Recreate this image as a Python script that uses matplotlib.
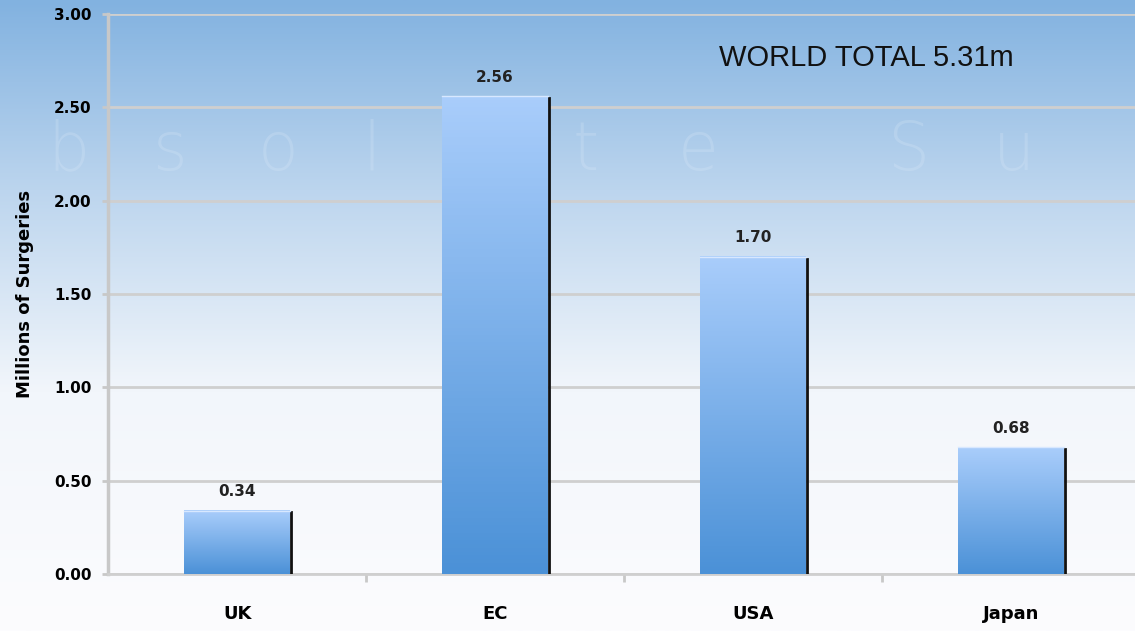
import numpy as np
import matplotlib.pyplot as plt
from matplotlib.colors import LinearSegmentedColormap

# data
regions = ['UK', 'EC', 'USA', 'Japan']
surgeries = [0.34, 2.56, 1.70, 0.68]
value_labels = ['0.34', '2.56', '1.70', '0.68']
yticks = [0.0, 0.5, 1.0, 1.5, 2.0, 2.5, 3.0]
watermark = 'bsolute Su'

fig = plt.figure(figsize=(11.35, 6.31), dpi=100)

# sky-like background over the whole figure
bg = fig.add_axes([0, 0, 1, 1], zorder=0)
sky = LinearSegmentedColormap.from_list('sky', [(0.0, '#82b2e0'), (0.3, '#bcd5ee'),
                                                 (0.62, '#f2f6fb'), (1.0, '#fcfcfe')])
bg.imshow(np.linspace(0, 1, 256).reshape(-1, 1), cmap=sky, aspect='auto',
          extent=[0, 1, 0, 1], origin='upper')
bg.axis('off')

# faint watermark letters, spread out
for i, ch in enumerate(watermark):
    bg.text(0.042 + i * 0.0925, 0.73, ch, fontsize=48, color='#e2eefa', alpha=0.22,
            fontweight='light', family='DejaVu Sans', ha='left', va='baseline')

ax = fig.add_axes([0.0952, 0.0903, 0.9048, 0.8875], zorder=1)
ax.patch.set_alpha(0)

x = np.arange(len(regions))
bars = ax.bar(x, surgeries, width=0.41, color='none', edgecolor='none', zorder=3)

barmap = LinearSegmentedColormap.from_list('bar', ['#a9cdfb', '#4b91d7'])
for b in bars:
    x0, w, h = b.get_x(), b.get_width(), b.get_height()
    ax.imshow(np.linspace(0, 1, 128).reshape(-1, 1), cmap=barmap, aspect='auto',
              extent=[x0, x0 + w, 0, h], origin='upper', zorder=3)
    # dark shadow on the right edge
    ax.plot([x0 + w + 0.004, x0 + w + 0.004], [0, h - 0.01], color='#111111', lw=2, zorder=4)
    ax.plot([x0, x0 + w], [h, h], color='#d8e8ff', lw=1, zorder=4)

for xi, v, lab in zip(x, surgeries, value_labels):
    ax.text(xi, v + 0.06, lab, ha='center', va='bottom', fontsize=11,
            fontweight='bold', color='#222222', zorder=5)

ax.set_xlim(-0.5, 3.48)
ax.set_ylim(0, 3.0)
ax.set_yticks(yticks)
ax.set_yticklabels(['%.2f' % t for t in yticks], fontsize=11, fontweight='bold')
ax.yaxis.grid(True, color='#cfcfcf', lw=2)
ax.set_axisbelow(True)

ax.set_xticks(x)
ax.set_xticklabels(regions, fontsize=13, fontweight='bold')
ax.tick_params(axis='x', length=0, pad=22)
ax.set_xticks([0.5, 1.5, 2.5], minor=True)
ax.tick_params(axis='x', which='minor', length=6, width=2, color='#c8c8c8')
ax.tick_params(axis='y', length=4, width=2, color='#c8c8c8', pad=8)

for s in ['top', 'right']:
    ax.spines[s].set_visible(False)
ax.spines['left'].set_color('#c8c8c8')
ax.spines['left'].set_linewidth(2.5)
ax.spines['bottom'].set_color('#cfcfcf')
ax.spines['bottom'].set_linewidth(2)

ax.set_ylabel('Millions of Surgeries', fontsize=13, fontweight='bold', labelpad=14)

ax.text(0.763, 0.908, 'WORLD TOTAL 5.31m', transform=fig.transFigure, ha='center',
        va='center', fontsize=21, family='Liberation Sans', color='#111111')

fig.savefig('out.png', dpi=100)
